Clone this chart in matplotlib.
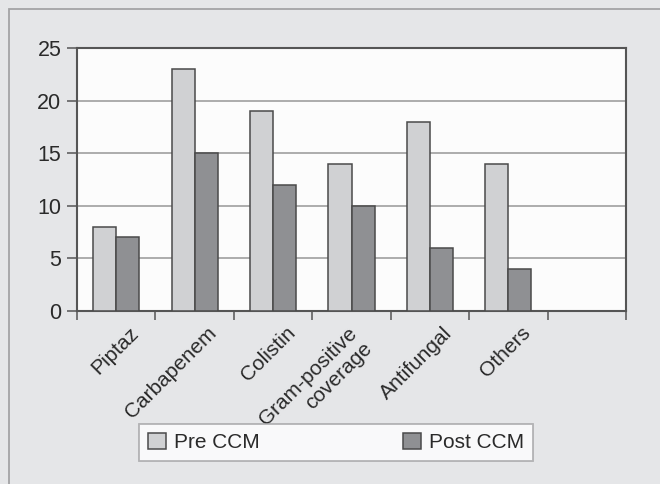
import matplotlib
matplotlib.use("Agg")
import matplotlib.pyplot as plt
import matplotlib.transforms as mtransforms
import numpy as np
from matplotlib.patches import Rectangle

categories = ["Piptaz", "Carbapenem", "Colistin", "Gram-positive\ncoverage", "Antifungal", "Others"]
pre_ccm = [8, 23, 19, 14, 18, 14]
post_ccm = [7, 15, 12, 10, 6, 4]
series_names = ["Pre CCM", "Post CCM"]
yticks = [0, 5, 10, 15, 20, 25]

plt.rcParams['font.family'] = ['Liberation Sans', 'DejaVu Sans']

W, H = 660, 484
fig = plt.figure(figsize=(W / 100, H / 100), dpi=100)
fig.patch.set_facecolor('#e5e6e8')
fig.patches.append(Rectangle((9 / W, -0.1), 1.2, (H - 9) / H + 0.1, transform=fig.transFigure,
                             facecolor='none', edgecolor='#a3a3a5', linewidth=1.3, zorder=0))

left, right, top, bottom = 77, 626, 48, 311
ax = fig.add_axes([left / W, 1 - bottom / H, (right - left) / W, (bottom - top) / H])
ax.set_facecolor('#fcfcfc')

n_slots = 7
x = np.arange(len(categories)) + 0.5
w = 0.295
ax.bar(x - w / 2, pre_ccm, width=w, color='#d0d1d3', edgecolor='#4a4a4a', linewidth=1.1, zorder=3, label=series_names[0])
ax.bar(x + w / 2, post_ccm, width=w, color='#8f9093', edgecolor='#4a4a4a', linewidth=1.1, zorder=3, label=series_names[1])

ax.set_xlim(0, n_slots)
ax.set_ylim(0, 25)
ax.set_yticks(yticks)
ax.set_xticks(np.arange(n_slots + 1))
ax.set_xticklabels([])
ax.tick_params(axis='x', which='major', length=6.5, direction='out', color='#555555', width=1.1)
ax.tick_params(axis='y', length=7.2, direction='out', color='#555555', width=1.1,
               labelsize=15.5, labelcolor='#2a2a2a', pad=4)

# rotated category labels
for xi, lab in zip(x, categories):
    nlines = lab.count('\n') + 1
    off = mtransforms.ScaledTranslation((19 - (nlines - 1) * 9) / 100,
                                        -(19 + (nlines - 1) * 8.5) / 100, fig.dpi_scale_trans)
    ax.text(xi, 0, lab, transform=ax.get_xaxis_transform() + off, rotation=45,
            rotation_mode='anchor', ha='right', va='center', multialignment='right',
            fontsize=15, color='#2a2a2a', linespacing=1.15)

ax.yaxis.grid(True, color='#a6a6a6', linewidth=1.3, zorder=0)
ax.set_axisbelow(True)
for s in ax.spines.values():
    s.set_color('#555555')
    s.set_linewidth(1.5)

leg = fig.legend(loc='center', bbox_to_anchor=(336 / W, 1 - 442.5 / H), ncol=2, fontsize=15,
                 frameon=True, fancybox=False, edgecolor='#a3a3a5', facecolor='white',
                 columnspacing=6.9, handlelength=0.86, handleheight=0.82, handletextpad=0.38,
                 borderpad=0.42)
leg.get_frame().set_linewidth(1.3)
for t in leg.get_texts():
    t.set_color('#2a2a2a')

fig.savefig("out.png", dpi=100, facecolor=fig.get_facecolor())
